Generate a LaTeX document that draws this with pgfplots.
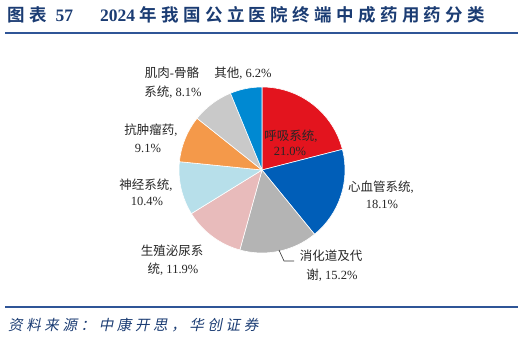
\documentclass[border=0pt]{standalone}
\usepackage{pgfplots}
\usepackage{pgfplotstable}
\pgfplotsset{compat=1.18}
\usepackage{fontspec}
\setmainfont{Liberation Serif}
\newfontfamily\cjk{Noto Sans CJK SC}
\newfontfamily\cjkb[BoldFont={Noto Sans CJK SC Bold}, LetterSpace=25, BoldFeatures={LetterSpace=25}]{Noto Sans CJK SC}
\newfontfamily\cjksrc[FakeSlant=0.2,LetterSpace=25]{Noto Sans CJK SC}
\definecolor{c1}{HTML}{E3141E}
\definecolor{c2}{HTML}{005EB8}
\definecolor{c3}{HTML}{B4B4B4}
\definecolor{c4}{HTML}{E8BBBB}
\definecolor{c5}{HTML}{B7DFEA}
\definecolor{c6}{HTML}{F4994A}
\definecolor{c7}{HTML}{C9C9C9}
\definecolor{c8}{HTML}{0089D2}
\definecolor{titlec}{HTML}{1B3C73}
\definecolor{linec}{HTML}{2F5597}
\pgfplotstableread{
name value col
resp 21.0 c1
card 18.1 c2
dige 15.2 c3
geni 11.9 c4
neur 10.4 c5
onco 9.1 c6
musc 8.1 c7
other 6.2 c8
}\piedata
\newcommand\cj[1]{{\cjk #1}}
\begin{document}
\begin{tikzpicture}
\begin{axis}[
  width=524bp, height=339bp, scale only axis,
  xmin=0, xmax=524, ymin=0, ymax=339,
  hide axis, clip=false,
]
\addplot[draw=none] coordinates {(0,0) (524,339)};
\pgfplotsextra{
  \gdef\cum{0}
  \pgfplotstableforeachcolumnelement{value}\of\piedata\as\v{
    \pgfmathsetmacro\sa{90-3.6*\cum}
    \pgfmathsetmacro\ea{90-3.6*(\cum+\v)}
    \pgfplotstablegetelem{\pgfplotstablerow}{col}\of\piedata
    \let\thecol\pgfplotsretval
    \fill[fill=\thecol, draw=white, line width=0.6bp] (axis cs:262,169) -- ++(\sa:83bp) arc[start angle=\sa, end angle=\ea, radius=83bp] -- cycle;
    \pgfmathsetmacro\newcum{\cum+\v}
    \xdef\cum{\newcum}
  }
}
\begin{scope}[every node/.style={font=\fontsize{12.5bp}{14bp}\selectfont, text=black!85, inner sep=0pt}]
\node at (axis cs:291,203) {\cj{呼吸系统},};
\node at (axis cs:290,188) {21.0\%};
\node at (axis cs:381,152) {\cj{心血管系统},};
\node at (axis cs:382,135) {18.1\%};
\node at (axis cs:331,83) {\cj{消化道及代}};
\node at (axis cs:332,64) {\cj{谢}, 15.2\%};
\node at (axis cs:172,88) {\cj{生殖泌尿系}};
\node at (axis cs:173,70) {\cj{统}, 11.9\%};
\node at (axis cs:146,154) {\cj{神经系统},};
\node at (axis cs:147,138) {10.4\%};
\node at (axis cs:151,209) {\cj{抗肿瘤药},};
\node at (axis cs:148,191) {9.1\%};
\node at (axis cs:172,266) {\cj{肌肉}-\cj{骨骼}};
\node at (axis cs:173,247) {\cj{系统}, 8.1\%};
\node at (axis cs:243,266) {\cj{其他}, 6.2\%};
\end{scope}
\draw[black!80, line width=0.6bp] (axis cs:279,89) -- (axis cs:284,78) -- (axis cs:294,78);
% title
\node[anchor=west, inner sep=0pt, text=titlec, font=\fontsize{17.5bp}{20bp}\selectfont\bfseries] at (axis cs:7,324) {{\cjkb 图表}\hspace{9bp}57};
\node[anchor=west, inner sep=0pt, text=titlec, font=\fontsize{17.5bp}{20bp}\selectfont\bfseries] at (axis cs:100,324) {2024 {\cjkb 年我国公立医院终端中成药用药分类}};
\draw[linec, line width=1.6bp] (axis cs:5,306) -- (axis cs:518,306);
\draw[linec, line width=1.2bp] (axis cs:5,32) -- (axis cs:518,32);
\node[anchor=west, inner sep=0pt, text=titlec, font=\fontsize{14.5bp}{16bp}\selectfont] at (axis cs:8,14) {\cjksrc 资料来源：中康开思，华创证券};
\end{axis}
\end{tikzpicture}
\end{document}
